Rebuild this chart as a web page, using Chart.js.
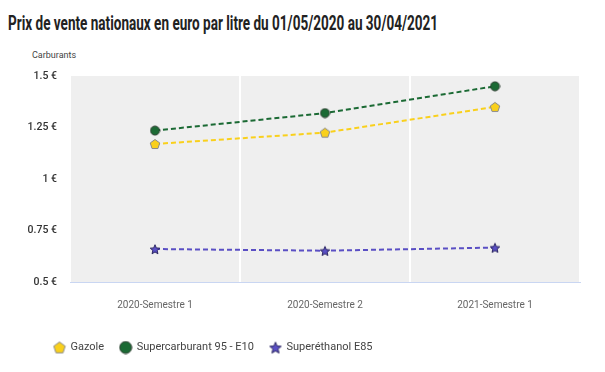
<!DOCTYPE html>
<html>
<head>
<meta charset="utf-8">
<script src="https://cdn.jsdelivr.net/npm/chart.js@4"></script>
<style>
  html, body { margin: 0; padding: 0; background: #fff; }
  #wrap { position: relative; width: 605px; height: 372px; overflow: hidden; }
  #title { position: absolute; left: 8px; top: 11px; font: 700 20px Roboto, sans-serif; color: #222; white-space: nowrap; transform-origin: 0 0; }
  #yTitle { position: absolute; left: 32px; top: 50px; font: 9px Roboto, sans-serif; color: #444; }
  canvas { position: absolute; left: 0; top: 0; }
</style>
</head>
<body>
<div id="wrap">
  <div id="title">Prix de vente nationaux en euro par litre du 01/05/2020 au 30/04/2021</div>
  <div id="yTitle">Carburants</div>
  <canvas id="chart" width="605" height="372"></canvas>
</div>
<script>
// données
const categories = ['2020-Semestre 1', '2020-Semestre 2', '2021-Semestre 1'];
const gazole = [1.17, 1.225, 1.35];
const sp95e10 = [1.235, 1.32, 1.45];
const e85 = [0.66, 0.652, 0.667];
const yTicks = [0.5, 0.75, 1, 1.25, 1.5];

// squeeze the title to the reference width (condensed look)
const titleEl = document.getElementById('title');
titleEl.style.transform = `scaleX(${430 / titleEl.scrollWidth})`;

function makeShape(kind, size, fill, stroke) {
  const c = document.createElement('canvas');
  c.width = size; c.height = size;
  const g = c.getContext('2d');
  const cx = size / 2, cy = size / 2, r = size / 2 - 1;
  g.beginPath();
  if (kind === 'circle') {
    g.arc(cx, cy, r, 0, Math.PI * 2);
  } else if (kind === 'pentagon') {
    for (let i = 0; i < 5; i++) {
      const a = -Math.PI / 2 + i * 2 * Math.PI / 5;
      g.lineTo(cx + r * Math.cos(a), cy + 0.5 + r * Math.sin(a));
    }
  } else {
    for (let i = 0; i < 10; i++) {
      const a = -Math.PI / 2 + i * Math.PI / 5;
      const rr = i % 2 ? r * 0.45 : r;
      g.lineTo(cx + rr * Math.cos(a), cy + 0.7 + rr * Math.sin(a));
    }
  }
  g.closePath();
  g.fillStyle = fill; g.fill();
  g.lineWidth = 1; g.strokeStyle = stroke; g.stroke();
  return c;
}

const YELLOW = '#f9d01c', GREEN = '#1b6a34', PURPLE = '#5a4fc4';
const series = [
  { label: 'Gazole', data: gazole, color: YELLOW, border: '#8a8a8a', shape: 'pentagon' },
  { label: 'Supercarburant 95 - E10', data: sp95e10, color: GREEN, border: '#2b3b2f', shape: 'circle' },
  { label: 'Superéthanol E85', data: e85, color: PURPLE, border: '#2a2560', shape: 'star' },
];

const plotBg = {
  id: 'plotBg',
  afterLayout(chart) {
    // legend starts under the y labels, like the reference
    if (chart.legend) chart.legend.left += 30;
  },
  beforeDraw(chart) {
    const { ctx, chartArea: a } = chart;
    ctx.save();
    ctx.fillStyle = '#efefef';
    ctx.fillRect(a.left, a.top, a.right - a.left, a.bottom - a.top);
    ctx.restore();
  }
};

new Chart(document.getElementById('chart'), {
  type: 'line',
  data: {
    labels: categories,
    datasets: series.map(s => ({
      label: s.label,
      data: s.data,
      borderColor: s.color,
      backgroundColor: s.color,
      borderWidth: 2,
      borderDash: [5, 3],
      pointStyle: makeShape(s.shape, s.shape === 'circle' ? 11 : 12, s.color, s.border),
      legendIcon: makeShape(s.shape, 14, s.color, s.border),
      tension: 0,
    }))
  },
  options: {
    responsive: false,
    animation: false,
    layout: { padding: { left: 8, right: 25, top: 76, bottom: 9 } },
    plugins: {
      title: { display: false },
      tooltip: { enabled: false },
      legend: {
        position: 'bottom',
        align: 'start',
        labels: {
          usePointStyle: true,
          padding: 16,
          color: '#444',
          font: { family: 'Roboto', size: 11 },
          generateLabels(chart) {
            return chart.data.datasets.map((d, i) => ({
              text: d.label,
              pointStyle: d.legendIcon,
              fillStyle: d.backgroundColor,
              strokeStyle: d.borderColor,
              fontColor: '#444',
              lineWidth: 0,
              hidden: false,
              datasetIndex: i,
            }));
          }
        }
      }
    },
    scales: {
      x: {
        offset: true,
        afterFit(s) { s.height = 44; },
        grid: { offset: true, color: '#ffffff', lineWidth: 2, drawTicks: false },
        border: { display: true, color: '#c9d6f2', width: 1 },
        ticks: { color: '#666', font: { family: 'Roboto', size: 10 }, padding: 17 }
      },
      y: {
        min: 0.5, max: 1.5,
        afterFit(s) { s.width = 62; },
        afterBuildTicks(s) { s.ticks = yTicks.map(v => ({ value: v })); },
        grid: { display: false, drawTicks: false },
        border: { display: false },
        ticks: {
          color: '#333',
          font: { family: 'Roboto', size: 10.5, weight: '500' },
          padding: 13,
          callback: v => v + ' €'
        }
      }
    }
  },
  plugins: [plotBg]
});
</script>
</body>
</html>
